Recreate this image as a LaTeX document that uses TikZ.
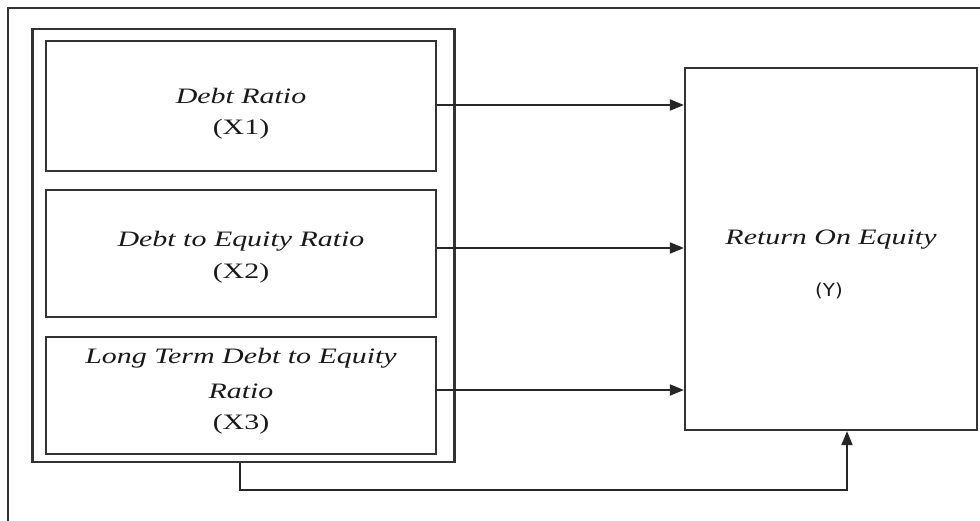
\documentclass[tikz,border=0pt]{standalone}
\usepackage{fontspec}
\usetikzlibrary{arrows.meta}
\newfontfamily\wideserif[FakeStretch=1.36]{Liberation Serif}
\newfontfamily\widesans[FakeStretch=1.1]{DejaVu Sans}
\tikzset{
  frame/.style={draw=black!80, line width=2.2pt},
  boxed/.style={draw=black!80, line width=2.2pt, rectangle, inner sep=0pt},
  lbl/.style={font=\wideserif\fontsize{22}{32}\selectfont, align=center, inner sep=0pt, text=black!90},
  conn/.style={draw=black!85, line width=1.9pt},
  arr/.style={conn, -{Triangle[length=14pt,width=11pt]}}
}
\begin{document}
\begin{tikzpicture}[x=1pt,y=-1pt]
\useasboundingbox (0,0) rectangle (980,520);
% outer frame (cut off on right and bottom)
\draw[frame] (8,530) -- (8,8) -- (990,8);
% group box
\node[boxed, minimum width=422pt, minimum height=433pt] (grp) at (243.5,245.5) {};
% inner boxes
\node[boxed, minimum width=390pt, minimum height=130pt] (b1) at (241,106) {};
\node[boxed, minimum width=390pt, minimum height=127pt] (b2) at (241,253.5) {};
\node[boxed, minimum width=390pt, minimum height=117pt] (b3) at (241,395.5) {};
% result box
\node[boxed, minimum width=292pt, minimum height=362pt] (roe) at (831,249) {};
% labels
\node[lbl] (t1) at (241,96) {\itshape Debt Ratio};
\node[lbl] (t1b) at (241,129) {(X1)};
\node[lbl] (t2) at (241,241) {\itshape Debt to Equity Ratio};
\node[lbl] (t2b) at (241,273) {(X2)};
\node[lbl] (t3) at (241,358) {\itshape Long Term Debt to Equity};
\node[lbl] (t3b) at (241,391) {\itshape Ratio};
\node[lbl] (t3c) at (241,424) {(X3)};
\node[lbl] (ty) at (831,240) {\itshape Return On Equity};
\node[font=\widesans\fontsize{18}{20}\selectfont, inner sep=0pt, text=black!90] (tyb) at (829,291) {(Y)};
% connectors
\coordinate (a1) at (b1.east |- 0,105);
\coordinate (a2) at (b2.east |- 0,248);
\coordinate (a3) at (b3.east |- 0,390);
\draw[arr] (a1) -- (roe.west |- a1);
\draw[arr] (a2) -- (roe.west |- a2);
\draw[arr] (a3) -- (roe.west |- a3);
\coordinate (g1) at (240,0 |- grp.south);
\coordinate (g2) at (240,490);
\coordinate (g3) at (847,490);
\draw[arr] (g1) -- (g2) -- (g3) -- (g3 |- roe.south);
\end{tikzpicture}
\end{document}
